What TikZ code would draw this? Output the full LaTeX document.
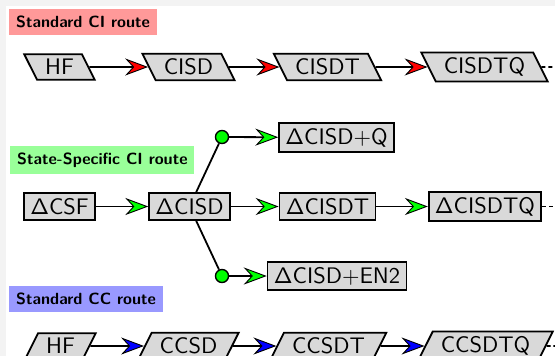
\documentclass[tikz,border=0pt]{standalone}
\usetikzlibrary{shapes.geometric,arrows.meta}

\definecolor{pagegray}{HTML}{F3F3F3}
\definecolor{cilabel}{HTML}{FF9999}
\definecolor{sslabel}{HTML}{99FF99}
\definecolor{cclabel}{HTML}{9999FF}
\definecolor{boxfill}{HTML}{D9D9D9}

\newcommand{\dlt}{$\mathsf{\Delta}$}

\tikzset{
  link/.style={line width=0.8pt},
  routetip/.style={link, arrows={-Stealth[length=10.2pt, width=7.6pt,
    inset=3.5pt, line width=0.4pt, fill=#1]}}
}

\begin{document}
\begin{tikzpicture}[x=1pt,y=-1pt,
  base/.style={draw, line width=0.8pt, fill=boxfill, inner xsep=2.8pt,
    inner ysep=2.2pt, font=\sffamily},
  rbox/.style={base, rectangle},
  backpar/.style={base, trapezium, trapezium left angle=116.6,
    trapezium right angle=63.4, inner xsep=3.6pt},
  fwdpar/.style={base, trapezium, trapezium left angle=63.4,
    trapezium right angle=116.6, inner xsep=3.6pt},
  route/.style={anchor=west, inner sep=3pt,
    font=\fontsize{7.2}{8}\selectfont\sffamily\bfseries},
  junction/.style={circle, draw, line width=0.6pt, fill=green,
    minimum size=5.8pt, inner sep=0pt},
  cont/.style={link, dash pattern=on 1.8pt off 1.3pt}
]
  % page frame
  \useasboundingbox (0,0) rectangle (246.67,158.22);
  \fill[pagegray] (0,0) rectangle (246.67,158.22);
  \fill[white] (2.67,2.67) rectangle (246.67,158.22);

  \begin{scope}
  \clip (2.67,2.67) rectangle (246.67,158.22);

  % standard CI route
  \node[route, fill=cilabel] (cilab) at (4.0,9.78) {Standard CI route};
  \node[backpar] (hfa)     at (26.44,29.78)  {HF};
  \node[backpar] (cisd)    at (83.78,29.78)  {CISD};
  \node[backpar] (cisdt)   at (145.56,29.78) {CISDT};
  \node[backpar] (cisdtq)  at (215.33,29.78) {CISDTQ};
  \coordinate (enda) at (258,29.78);
  \draw[routetip=red] (hfa) -- (cisd);
  \draw[routetip=red] (cisd) -- (cisdt);
  \draw[routetip=red] (cisdt) -- (cisdtq);
  \draw[cont] (cisdtq) -- (enda);

  % state-specific CI route
  \node[route, fill=sslabel] (sslab) at (4.44,71.11) {State-Specific CI route};
  \node[rbox] (dcsf)    at (26.44,91.78)  {\dlt CSF};
  \node[rbox] (dcisd)   at (84.22,91.78)  {\dlt CISD};
  \node[rbox] (dcisdt)  at (145.56,91.78) {\dlt CISDT};
  \node[rbox] (dcisdtq) at (215.56,91.78) {\dlt CISDTQ};
  \node[rbox] (dcisdq)  at (149.56,61.11) {\dlt CISD$+$Q};
  \node[rbox] (dcisden) at (149.78,122.67) {\dlt CISD$+$EN2};
  \node[junction] (jup)   at (98.67,60.89) {};
  \node[junction] (jdown) at (98.67,122.67) {};
  \coordinate (endb) at (258,91.78);
  \draw[routetip=green] (dcsf) -- (dcisd);
  \draw[routetip=green] (dcisd) -- (dcisdt);
  \draw[routetip=green] (dcisdt) -- (dcisdtq);
  \draw[link] (dcisd) -- (jup);
  \draw[link] (dcisd) -- (jdown);
  \draw[routetip=green] (jup) -- (dcisdq);
  \draw[routetip=green] (jdown) -- (dcisden);
  \draw[cont] (dcisdtq) -- (endb);

  % standard CC route
  \node[route, fill=cclabel] (cclab) at (4.0,132.89) {Standard CC route};
  \node[fwdpar] (hfb)     at (26.89,153.78)  {HF};
  \node[fwdpar] (ccsd)    at (83.78,153.78)  {CCSD};
  \node[fwdpar] (ccsdt)   at (146.0,153.78)  {CCSDT};
  \node[fwdpar] (ccsdtq)  at (215.78,153.78) {CCSDTQ};
  \coordinate (endc) at (258,153.78);
  \draw[routetip=blue] (hfb) -- (ccsd);
  \draw[routetip=blue] (ccsd) -- (ccsdt);
  \draw[routetip=blue] (ccsdt) -- (ccsdtq);
  \draw[cont] (ccsdtq) -- (endc);
  \end{scope}
\end{tikzpicture}
\end{document}
